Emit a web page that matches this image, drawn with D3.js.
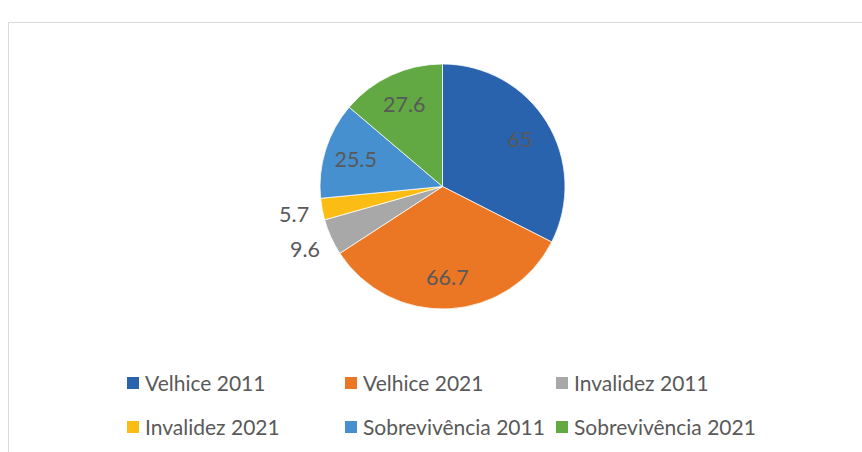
<!DOCTYPE html>
<html>
<head>
<meta charset="utf-8">
<script src="https://cdn.jsdelivr.net/npm/d3@7"></script>
<style>
  body { margin: 0; background: #fff; }
  text { font-family: Lato, "Noto Sans", sans-serif; fill: #595959; }
</style>
</head>
<body>
<div id="container"></div>
<script>
var width = 862, height = 452;

var categories = ["Velhice 2011", "Velhice 2021", "Invalidez 2011", "Invalidez 2021", "Sobrevivência 2011", "Sobrevivência 2021"];
var values = [65, 66.7, 9.6, 5.7, 25.5, 27.6];
var labels = ["65", "66.7", "9.6", "5.7", "25.5", "27.6"];
var outside = [false, false, true, true, false, false];
var colors = ["#2962ad", "#eb7624", "#a8a8a8", "#fbbc14", "#4690d0", "#62a843"];

var cx = 442.5, cy = 186.5, radius = 122.5;

var svg = d3.select("#container")
  .append("svg")
    .attr("width", width)
    .attr("height", height);

// chart area border (runs off right and bottom edges)
svg.append("rect")
  .attr("x", 8.5).attr("y", 22.5)
  .attr("width", 900).attr("height", 500)
  .attr("fill", "none")
  .attr("stroke", "#d9d9d9");

var data = categories.map(function(c, i) {
  return {name: c, value: values[i], label: labels[i], out: outside[i], color: colors[i]};
});

var pie = d3.pie().sort(null).value(function(d) { return d.value; });
var arcs = pie(data);

var arc = d3.arc().innerRadius(0).outerRadius(radius);
var inArc = d3.arc().innerRadius(91).outerRadius(91);
var outArc = d3.arc().innerRadius(151).outerRadius(151);

var g = svg.append("g").attr("transform", "translate(" + cx + "," + cy + ")");

g.selectAll("path")
  .data(arcs)
  .enter()
  .append("path")
  .attr("d", arc)
  .attr("fill", function(d) { return d.data.color; })
  .attr("stroke", "#fff")
  .attr("stroke-width", 0.75);

g.selectAll("text.lbl")
  .data(arcs)
  .enter()
  .append("text")
  .attr("class", "lbl")
  .attr("transform", function(d) {
    var p = (d.data.out ? outArc : inArc).centroid(d);
    return "translate(" + p[0] + "," + p[1] + ")";
  })
  .attr("text-anchor", "middle")
  .attr("dy", "0.36em")
  .style("font-size", "21.5px")
  .text(function(d) { return d.data.label; });

// legend, 3 columns x 2 rows
var colX = [127, 345, 556];
var rowY = [383, 427];

var leg = svg.selectAll("g.leg")
  .data(data)
  .enter()
  .append("g")
  .attr("class", "leg")
  .attr("transform", function(d, i) {
    return "translate(" + colX[i % 3] + "," + rowY[Math.floor(i / 3)] + ")";
  });

leg.append("rect")
  .attr("x", 0).attr("y", -6)
  .attr("width", 12).attr("height", 12)
  .attr("fill", function(d) { return d.color; });

leg.append("text")
  .attr("x", 18)
  .attr("dy", "0.36em")
  .style("font-size", "21px")
  .text(function(d) { return d.name; });
</script>
</body>
</html>
